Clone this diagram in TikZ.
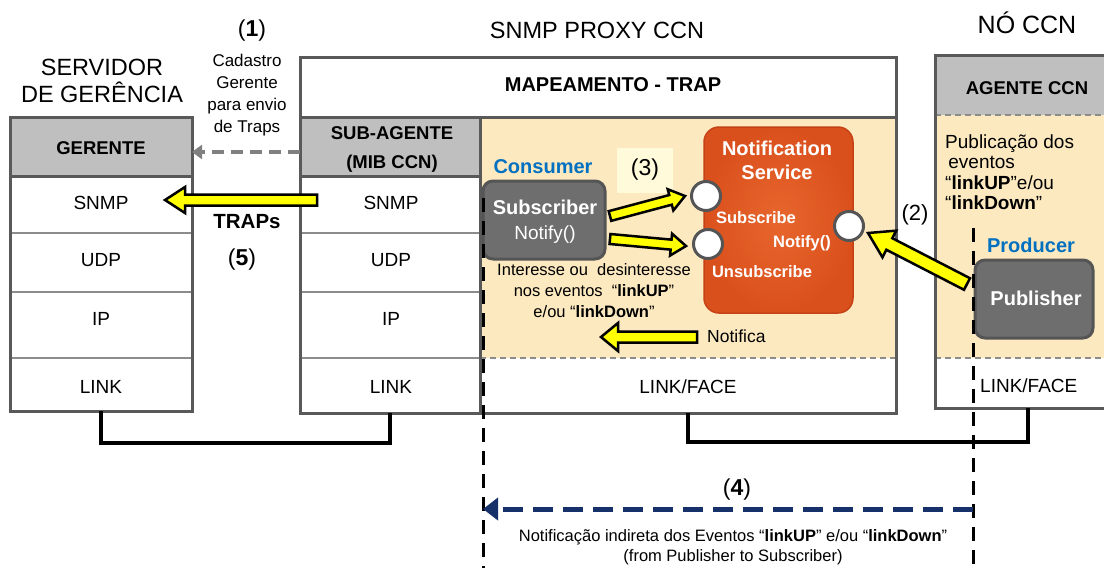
\documentclass[tikz,border=0pt]{standalone}
\usepackage{fontspec}
\setmainfont{Liberation Sans}
\usetikzlibrary{calc,arrows.meta}

\definecolor{framegray}{RGB}{89,89,89}
\definecolor{rowgray}{RGB}{140,140,140}
\definecolor{headgray}{RGB}{191,191,191}
\definecolor{areayellow}{RGB}{252,233,192}
\definecolor{lightyellow}{RGB}{255,250,218}
\definecolor{boxgray}{RGB}{110,110,110}
\definecolor{boxedge}{RGB}{85,85,85}
\definecolor{nsorange}{RGB}{218,80,28}
\definecolor{nsorangelight}{RGB}{232,102,46}
\definecolor{nsedge}{RGB}{196,66,22}
\definecolor{roleblue}{RGB}{0,112,192}
\definecolor{navyarrow}{RGB}{22,48,105}
\definecolor{arrowyellow}{RGB}{255,255,0}
\definecolor{hintgray}{RGB}{128,128,128}

\newcommand\fsz[2]{\fontsize{#1pt}{#2pt}\selectfont}
% block arrow: tail, tip, shaft half width, head half width, head length
\newcommand\blockarrow[5]{%
  \coordinate (neck) at ($(#2)!#5!(#1)$);
  \draw[fill=arrowyellow,draw=black,line width=2.5pt,line join=miter]
    ($(#1)!#3!90:(#2)$) -- ($(neck)!#3!90:(#2)$) -- ($(neck)!#4!90:(#2)$)
    -- (#2) -- ($(neck)!#4!-90:(#2)$) -- ($(neck)!#3!-90:(#2)$)
    -- ($(#1)!#3!-90:(#2)$) -- cycle;}

\begin{document}
\begin{tikzpicture}[x=1pt,y=-1pt,
  txt/.style={inner sep=0pt},
  title/.style={txt,font=\fsz{23.5}{27},align=center},
  hdr/.style={txt,font=\bfseries\fsz{18.5}{29},align=center},
  layer/.style={txt,font=\fsz{19}{22}},
  frame/.style={draw=framegray,line width=3pt},
  rowsep/.style={draw=rowgray,line width=1.8pt},
  areaedge/.style={draw=rowgray,line width=2pt,dash pattern=on 6pt off 4pt},
  region/.style={inner sep=0pt,outer sep=0pt},
  role/.style={txt,font=\bfseries\fsz{20}{23},text=roleblue},
  darkbox/.style={draw=boxedge,fill=boxgray,line width=3pt,rounded corners=10pt,inner sep=0pt},
  port/.style={circle,draw=boxedge,fill=white,line width=3pt,minimum size=29pt,inner sep=0pt},
  porttext/.style={txt,font=\bfseries\fsz{16.5}{20},text=white},
  note/.style={txt,font=\fsz{16.5}{21},align=center},
  lifeline/.style={line width=3pt,dash pattern=on 14pt off 9pt},
  wire/.style={line width=3.5pt,line join=miter}
]
\clip (0,0) rectangle (1104,568);
\fill[white] (0,0) rectangle (1104,568);

% ---------- management server ----------
\node[title] (servidor) at (102,81) {SERVIDOR\\DE GERÊNCIA};
\node[region,minimum width=182pt,minimum height=294pt] (gstack) at (101,264) {};
\fill[headgray] (10,117) rectangle (192,176);
\draw[rowsep] (10,233) -- (192,233) (10,292) -- (192,292) (10,358) -- (192,358);
\draw[frame] (10,176) -- (192,176);
\draw[frame] (gstack.north west) rectangle (gstack.south east);
\node[hdr] (gerente) at (101,148) {GERENTE};
\node[layer] (gsnmp) at (101,203) {SNMP};
\node[layer] (gudp) at (101,260) {UDP};
\node[layer] (gip) at (101,319) {IP};
\node[layer] (glink) at (101,387) {LINK};

% ---------- SNMP proxy ----------
\node[title] (proxytitle) at (597,30) {SNMP PROXY CCN};
\node[region,minimum width=596pt,minimum height=356pt] (proxy) at (598,235) {};
\node[region,minimum width=180pt,minimum height=296pt] (sstack) at (390,265) {};
\node[region,minimum width=416pt,minimum height=55pt] (pface) at (688,385.5) {};
\fill[headgray] (300,117) rectangle (480,176);
\fill[areayellow] (480,117) rectangle (896,358);
\draw[rowsep] (300,233) -- (480,233) (300,292) -- (480,292) (300,358) -- (480,358);
\draw[areaedge] (480,358) -- (896,358);
\draw[frame] (300,176) -- (480,176);
\draw[frame] (300,117) -- (896,117);
\draw[frame] (480,117) -- (480,413);
\draw[frame] (proxy.north west) rectangle (proxy.south east);
\node[hdr,font=\bfseries\fsz{20}{23}] (mapeamento) at (613,85) {MAPEAMENTO - TRAP};
\node[hdr] (subagente) at (392,149) {SUB-AGENTE\\(MIB CCN)};
\node[layer] (ssnmp) at (391,203) {SNMP};
\node[layer] (sudp) at (391,260) {UDP};
\node[layer] (sip) at (391,319) {IP};
\node[layer] (slink) at (391,387) {LINK};
\node[layer] (pfacetext) at (688,387) {LINK/FACE};

% ---------- CCN node ----------
\node[title,font=\fsz{25}{29}] (notitle) at (1027,23) {NÓ CCN};
\node[region,minimum width=186pt,minimum height=353pt] (nodebox) at (1028,231.5) {};
\node[region,minimum width=186pt,minimum height=50pt] (nface) at (1028,383) {};
\fill[headgray] (935,55) rectangle (1121,115);
\fill[areayellow] (935,115) rectangle (1121,358);
\draw[areaedge] (935,115) -- (1121,115) (935,358) -- (1121,358);
\draw[frame] (nodebox.north west) rectangle (nodebox.south east);
\node[hdr] (agente) at (1027,88) {AGENTE CCN};
\node[txt,font=\fsz{19}{20.5},align=left,anchor=west] (publicacao) at (945,172)
  {Publicação dos\\ \,eventos\\“\textbf{linkUP}”e/ou\\“\textbf{linkDown}”};
\node[layer,anchor=west] (nfacetext) at (980,386) {LINK/FACE};

% ---------- event lifelines ----------
\coordinate (subLineTop) at (483,198);
\coordinate (subLineEnd) at (483,568);
\coordinate (pubLineTop) at (973,228);
\coordinate (pubLineEnd) at (973,568);

% ---------- consumer side ----------
\fill[lightyellow] (617,148) rectangle (673,193);
\node[txt,font=\fsz{23}{27}] (step3) at (645,170) {(3)};
\node[role] (consumer) at (543,167) {Consumer};
\node[darkbox,minimum width=122pt,minimum height=78pt] (subscriber) at (544,220) {};
\node[txt,text=white,align=center,font=\fsz{19}{25}] (subtext) at (545,222)
  {\textbf{\fsz{20}{25}Subscriber}\\Notify()};
\draw[lifeline] (subLineTop) -- (subLineEnd);
\node[note] (interesse) at (594,291)
  {Interesse ou\ \ desinteresse\\nos eventos\ \ “\textbf{linkUP}”\\e/ou “\textbf{linkDown}”};

% ---------- notification service ----------
\node[rounded corners=15pt,draw=nsedge,line width=1.5pt,inner color=nsorangelight,
      outer color=nsorange,minimum width=149pt,minimum height=186pt,inner sep=0pt] (service) at (778.5,220) {};
\node[txt,text=white,align=center,font=\bfseries\fsz{20}{24}] (servicetext) at (777,160)
  {Notification\\Service};
\node[port] (psub) at (706,196) {};
\node[port] (punsub) at (708,244) {};
\node[port] (pnotify) at (849,226) {};
\node[porttext] (subscribetext) at (756,218) {Subscribe};
\node[porttext] (notifytext) at (802,243) {Notify()};
\node[porttext] (unsubscribetext) at (762,272) {Unsubscribe};

% ---------- producer side ----------
\node[txt,font=\fsz{22}{26}] (step2) at (915,215) {(2)};
\node[role] (producer) at (1031,245) {Producer};
\node[darkbox,minimum width=118pt,minimum height=78pt] (publisher) at (1034,299) {};
\node[txt,text=white,font=\bfseries\fsz{20}{24}] (pubtext) at (1036,298) {Publisher};
\draw[lifeline] (pubLineTop) -- (pubLineEnd);

% ---------- yellow block arrows ----------
\coordinate (subA1) at (610,216);
\coordinate (subA2) at (685,196);
\coordinate (unsA1) at (610,239);
\coordinate (unsA2) at (686,246);
\coordinate (pubA1) at (967,284);
\coordinate (pubA2) at (868,233);
\coordinate (notA1) at (697,337);
\coordinate (notA2) at (601,337);
\coordinate (trapA1) at (317,200);
\coordinate (trapA2) at (165,200);
\blockarrow{subA1}{subA2}{5pt}{11pt}{15pt}
\blockarrow{unsA1}{unsA2}{5pt}{11pt}{15pt}
\blockarrow{pubA1}{pubA2}{6.5pt}{15pt}{24pt}
\blockarrow{notA1}{notA2}{5.5pt}{14pt}{17pt}
\blockarrow{trapA1}{trapA2}{5.5pt}{13pt}{20pt}
\node[txt,font=\fsz{17.5}{21},anchor=west] (notifica) at (707,336) {Notifica};

% ---------- trap registration and delivery ----------
\node[txt,font=\fsz{23}{26}] (step1) at (252,31) {(\textbf{1})};
\node[note,font=\fsz{17}{22}] (cadastro) at (247,95) {Cadastro\\Gerente\\para envio\\ de Traps};
\draw[hintgray,line width=4pt,dash pattern=on 12pt off 7pt,
      -{Triangle[length=10pt,width=14pt]}] ([yshift=-3pt]subagente.west -| sstack.west) -- ([yshift=-3pt]subagente.west -| gstack.east);
\node[txt,font=\bfseries\fsz{20.5}{23}] (traps) at (247,222) {TRAPs};
\node[txt,font=\fsz{23}{26}] (step5) at (242,260) {(\textbf{5})};

% ---------- physical links ----------
\draw[wire] (gstack.south) -- ++(0,32) -| (sstack.south);
\draw[wire] (pface.south) -- ++(0,29) -| (nface.south);

% ---------- indirect notification ----------
\node[txt,font=\fsz{23}{26}] (step4) at (737,490) {(\textbf{4})};
\draw[navyarrow,line width=5pt,dash pattern=on 20pt off 10pt,
      -{Triangle[length=15pt,width=22pt]}] (pubLineTop |- 0,509) -- (subLineTop |- 0,509);
\node[txt,font=\fsz{16.5}{20},align=center] (indireta) at (733,547)
  {Notificação indireta dos Eventos “\textbf{linkUP}” e/ou “\textbf{linkDown}”\\(from Publisher to Subscriber)};
\end{tikzpicture}
\end{document}
